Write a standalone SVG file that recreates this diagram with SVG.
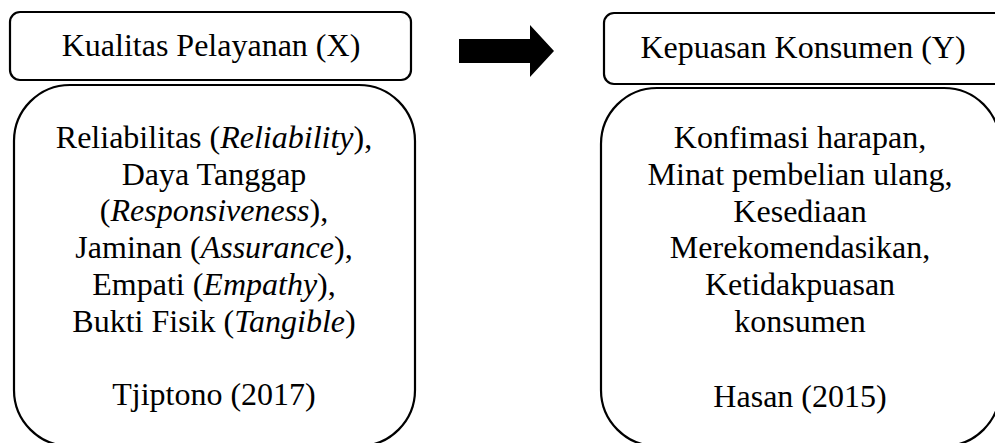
<svg xmlns="http://www.w3.org/2000/svg" width="995" height="443" viewBox="0 0 995 443">
<style>
.box{fill:#fff;stroke:#000;stroke-width:2.2}
.t{font-family:'Liberation Serif','DejaVu Serif',serif;font-size:32px;fill:#000;text-anchor:middle}
.i{font-style:italic}
</style>
<rect width="995" height="443" fill="#fff"/>
<g id="x-title">
<rect class="box" x="10" y="12" width="401" height="68" rx="10"/>
<text class="t" font-family="Liberation Serif, serif" x="211" y="56">Kualitas Pelayanan (X)</text>
</g>
<g id="x-body" font-family="Liberation Serif, serif">
<rect class="box" x="14" y="85" width="401" height="361" rx="56"/>
<text class="t" x="214" y="148">Reliabilitas (<tspan class="i">Reliability</tspan>),</text>
<text class="t" x="214" y="185">Daya Tanggap</text>
<text class="t" x="214" y="221">(<tspan class="i">Responsiveness</tspan>),</text>
<text class="t" x="214" y="258">Jaminan (<tspan class="i">Assurance</tspan>),</text>
<text class="t" x="214" y="295">Empati (<tspan class="i">Empathy</tspan>),</text>
<text class="t" x="214" y="332">Bukti Fisik (<tspan class="i">Tangible</tspan>)</text>
<text class="t" x="214" y="405">Tjiptono (2017)</text>
</g>
<g id="connectors">
<polygon points="459,39 530,39 530,25 554,51 530,77 530,63 459,63" fill="#000"/>
</g>
<g id="y-title">
<rect class="box" x="604" y="13" width="420" height="71" rx="10"/>
<text class="t" x="803" y="58">Kepuasan Konsumen (Y)</text>
</g>
<g id="y-body">
<rect class="box" x="601" y="88" width="399" height="358" rx="56"/>
<text class="t" x="800" y="148">Konfimasi harapan,</text>
<text class="t" x="800" y="185">Minat pembelian ulang,</text>
<text class="t" x="800" y="222">Kesediaan</text>
<text class="t" x="800" y="258">Merekomendasikan,</text>
<text class="t" x="800" y="295">Ketidakpuasan</text>
<text class="t" x="800" y="332">konsumen</text>
<text class="t" x="800" y="407">Hasan (2015)</text>
</g>
</svg>
